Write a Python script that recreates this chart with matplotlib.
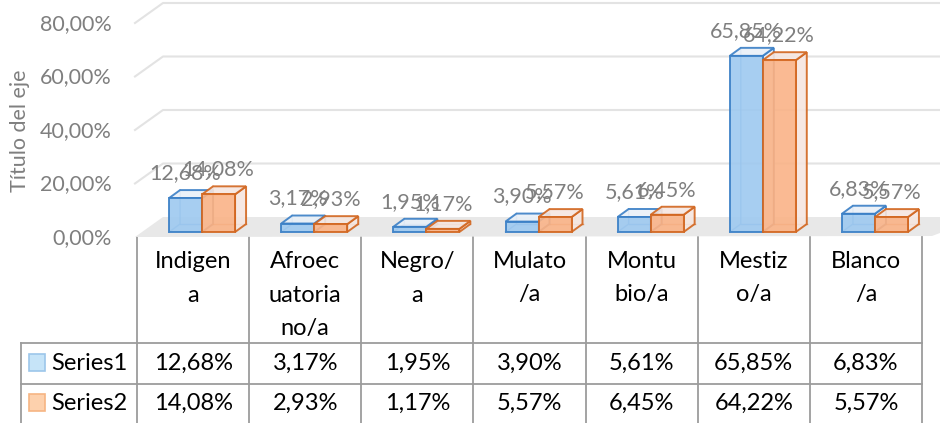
import matplotlib
matplotlib.use('Agg')
import matplotlib.pyplot as plt
from matplotlib.patches import Polygon, Rectangle
from matplotlib.lines import Line2D
from matplotlib.transforms import blended_transform_factory, ScaledTranslation

# ---------------- data ----------------
categories = ["Indigen\na", "Afroec\nuatoria\nno/a", "Negro/\na", "Mulato\n/a",
              "Montu\nbio/a", "Mestiz\no/a", "Blanco\n/a"]
series_names = ["Series1", "Series2"]
series1 = [12.68, 3.17, 1.95, 3.90, 5.61, 65.85, 6.83]
series2 = [14.08, 2.93, 1.17, 5.57, 6.45, 64.22, 5.57]
yticks = [0, 20, 40, 60, 80]
axis_title = "Título del eje"


def pct(v):
    return f"{v:.2f}%".replace('.', ',')


plt.rcParams['font.family'] = ['Lato', 'DejaVu Sans']
FS = 15.5
FS_T = 17
GRAY = '#7f7f7f'

W, H = 940, 423
fig = plt.figure(figsize=(W / 100, H / 100), dpi=100)
fig.patch.set_facecolor('white')

# plot area in pixels (from top)
L, R = 137, 922
Y0, Y80 = 232, 18
ax = fig.add_axes([L / W, (H - Y0) / H, (R - L) / W, (Y0 - Y80) / H])
n = len(categories)
ax.set_xlim(-0.5, n - 0.5)
ax.set_ylim(yticks[0], yticks[-1])
ax.axis('off')

ppx = (R - L) / n                      # pixels per category unit
ppy = (Y0 - Y80) / (yticks[-1] - yticks[0])  # pixels per percent


def dx(p):
    return p / ppx


def dy(p):
    return p / ppy


# ---------- floor ----------
floor = Polygon([(-0.5 - dx(2), -dy(5)), (-0.5 + dx(26), dy(15)),
                 (n - 0.5 + dx(60), dy(15)), (n - 0.5 + dx(10), -dy(4))],
                closed=True, facecolor='#e8e8e8', edgecolor='none',
                zorder=0, clip_on=False)
ax.add_patch(floor)

# ---------- gridlines (side wall + back wall) ----------
for v in yticks[1:]:
    ax.add_line(Line2D([-0.5 - dx(2), -0.5 + dx(26), n - 0.5 + dx(60)],
                       [v - dy(5), v + dy(15), v + dy(15)],
                       color='#e3e3e3', lw=1.5, zorder=0.5, clip_on=False))

# y tick labels
tl_trans = blended_transform_factory(fig.transFigure, ax.transData)
for v in yticks:
    ax.text(112 / W, v, pct(v), transform=tl_trans + ScaledTranslation(0, -6 / 100, fig.dpi_scale_trans),
            ha='right', va='center', fontsize=FS, color=GRAY)

fig.text(20 / W, 1 - 131 / H, axis_title, rotation=90, ha='center', va='center',
         fontsize=FS, color=GRAY)

# ---------- 3D-looking boxes ----------
w = dx(33)
shift = dx(9)
ddx, ddy = dx(11), dy(8)
styles = [
    dict(front='#9ec9f0', side='#e9f0f8', edge='#3a7fc6'),
    dict(front='#fab387', side='#f5e6e0', edge='#d2661f'),
]


def box(x0, h, st, z):
    # hidden (back) edges
    ax.add_line(Line2D([x0, x0 + ddx, x0 + ddx], [0, ddy, h + ddy], color=st['edge'],
                       lw=1.0, alpha=0.6, zorder=z, clip_on=False))
    ax.add_line(Line2D([x0 + ddx, x0 + w + ddx], [ddy, ddy], color=st['edge'],
                       lw=1.0, alpha=0.6, zorder=z, clip_on=False))
    # right side face
    ax.add_patch(Polygon([(x0 + w, 0), (x0 + w + ddx, ddy), (x0 + w + ddx, h + ddy), (x0 + w, h)],
                         closed=True, facecolor=st['side'], edgecolor=st['edge'], lw=1.4,
                         alpha=0.9, zorder=z + 0.1, clip_on=False))
    # top face
    ax.add_patch(Polygon([(x0, h), (x0 + w, h), (x0 + w + ddx, h + ddy), (x0 + ddx, h + ddy)],
                         closed=True, facecolor=st['side'], edgecolor=st['edge'], lw=1.4,
                         alpha=0.9, zorder=z + 0.1, clip_on=False))


for s, (vals, st) in enumerate(zip([series1, series2], styles)):
    z = 2 + s
    xs = [i + shift - w + s * w for i in range(n)]
    for x0, v in zip(xs, vals):
        box(x0, v, st, z)
    ax.bar(xs, vals, width=w, align='edge', color=st['front'], edgecolor=st['edge'],
           linewidth=1.4, alpha=0.9, zorder=z + 0.2, clip_on=False)
    for x0, v in zip(xs, vals):
        ax.annotate(pct(v), xy=(x0 + w / 2, v), xytext=(0, 18), textcoords='offset points',
                    ha='center', va='center', fontsize=FS, color=GRAY, zorder=10)

# ---------- data table ----------
tax = fig.add_axes([0, 0, 1, 1], zorder=-1)
tax.set_xlim(0, W)
tax.set_ylim(H, 0)
tax.axis('off')

LINE = '#9c9c9c'
T_TOP, ROW1, ROW2, T_BOT = 237, 343, 384, 423
LEFT = 21
bounds = [L + i * ppx for i in range(n + 1)]
for b in bounds:
    tax.plot([b, b], [T_TOP, T_BOT], color=LINE, lw=1.3)
tax.plot([LEFT, LEFT], [ROW1, T_BOT], color=LINE, lw=1.3)
for yy in (ROW1, ROW2):
    tax.plot([LEFT, bounds[-1]], [yy, yy], color=LINE, lw=1.3)

for i, lab in enumerate(categories):
    cx = (bounds[i] + bounds[i + 1]) / 2
    for j, line in enumerate(lab.split('\n')):
        tax.text(cx, 262 + 33 * j, line, ha='center', va='center', fontsize=FS_T, color='black')

key_styles = [('#c6e4f8', '#9cc6ea'), ('#fdd1ad', '#f6b583')]
for r, (name, vals, (kf, ke)) in enumerate(zip(series_names, [series1, series2], key_styles)):
    cy = [363, 403][r]
    tax.add_patch(Rectangle((29, cy - 8.5), 16, 17, facecolor=kf, edgecolor=ke, lw=1.2))
    tax.text(51, cy, name, ha='left', va='center', fontsize=FS_T, color='black')
    for i, v in enumerate(vals):
        cx = (bounds[i] + bounds[i + 1]) / 2
        tax.text(cx, cy, pct(v), ha='center', va='center', fontsize=FS_T, color='black')

fig.savefig('out.png', dpi=100, facecolor='white')
